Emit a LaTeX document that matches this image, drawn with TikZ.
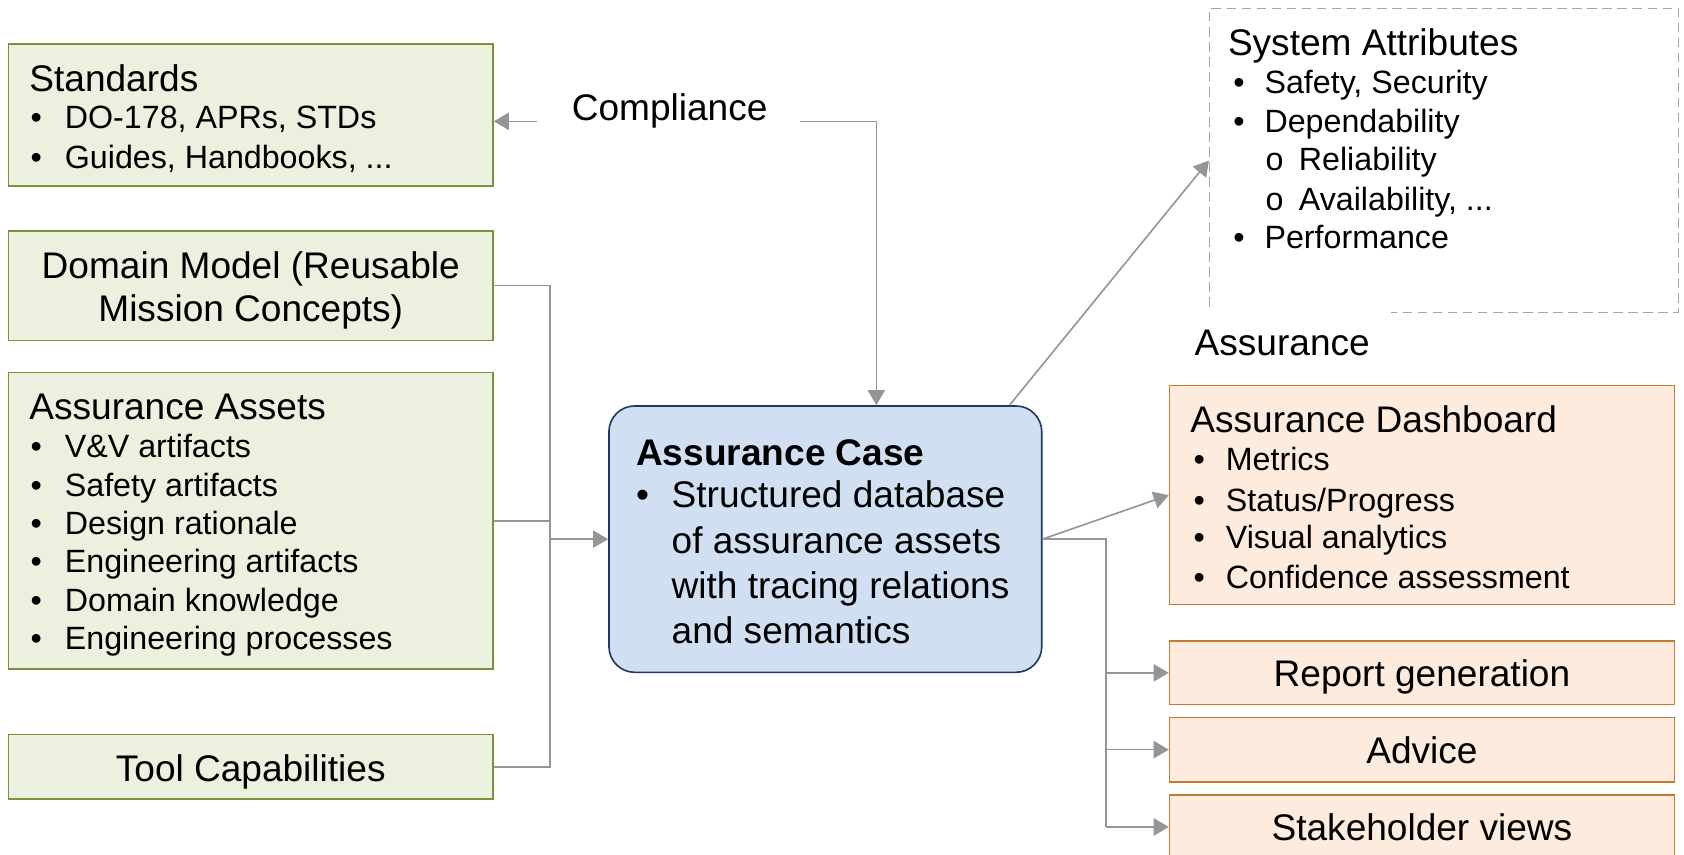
\documentclass[tikz,border=0pt]{standalone}
\usepackage{fontspec}
\setmainfont{Liberation Sans}
\usetikzlibrary{arrows.meta}
\definecolor{gfill}{HTML}{EBF1DE}
\definecolor{gdraw}{HTML}{77933C}
\definecolor{bfill}{HTML}{D0E0F2}
\definecolor{bdraw}{HTML}{203864}
\definecolor{ofill}{HTML}{FDEBDD}
\definecolor{odraw}{HTML}{C47A33}
\definecolor{conn}{HTML}{959595}
\definecolor{dashc}{HTML}{A6A6A6}
\begin{document}
\begin{tikzpicture}[x=0.5pt,y=-0.5pt,
  gbox/.style={draw=gdraw,fill=gfill,line width=0.75pt,inner sep=0pt,minimum width=225.5pt},
  obox/.style={draw=odraw,fill=ofill,line width=0.75pt,inner sep=0pt,minimum width=235pt},
  cbox/.style={draw=bdraw,fill=bfill,line width=0.75pt,inner sep=0pt,rounded corners=12pt},
  big/.style={font=\fontsize{17.25pt}{20pt}\selectfont,inner sep=0pt,anchor=base west},
  sm/.style={font=\fontsize{15pt}{18pt}\selectfont,inner sep=0pt,anchor=base west},
  bigc/.style={font=\fontsize{17.25pt}{20pt}\selectfont,inner sep=0pt,anchor=base},
  wire/.style={draw=conn,line width=0.75pt},
  arr/.style={wire,-{Triangle[length=7pt,width=8pt]}}]
\useasboundingbox (0,0) rectangle (1568,796);
\clip (0,0) rectangle (1568,796);

% ---------- left boxes ----------
\node[gbox,minimum height=66pt] (std) at (233.5,107) {};
\node[gbox,minimum height=51pt] (dom) at (233.5,266) {};
\node[gbox,minimum height=138pt] (ast) at (233.5,485) {};
\node[gbox,minimum height=30pt] (tool) at (233.5,714) {};

\node[big] (stdT) at (27,85) {Standards};
\node[sm] (stdB1) at (28,120) {•};
\node[sm] (std1) at (60,120) {DO-178, APRs, STDs};
\node[sm] (stdB2) at (28,157) {•};
\node[sm] (std2) at (60,157) {Guides, Handbooks, ...};

\node[bigc] (domT1) at (233.5,259) {Domain Model (Reusable};
\node[bigc] (domT2) at (233.5,299) {Mission Concepts)};

\node[big] (astT) at (27,391) {Assurance Assets};
\node[sm] (astB1) at (28,426) {•};
\node[sm] (ast1) at (60,426) {V\&V artifacts};
\node[sm] (astB2) at (28,462) {•};
\node[sm] (ast2) at (60,462) {Safety artifacts};
\node[sm] (astB3) at (28,498) {•};
\node[sm] (ast3) at (60,498) {Design rationale};
\node[sm] (astB4) at (28,533) {•};
\node[sm] (ast4) at (60,533) {Engineering artifacts};
\node[sm] (astB5) at (28,569) {•};
\node[sm] (ast5) at (60,569) {Domain knowledge};
\node[sm] (astB6) at (28,605) {•};
\node[sm] (ast6) at (60,605) {Engineering processes};

\node[bigc] (toolT) at (233.5,728) {Tool Capabilities};

% ---------- compliance ----------
\node[big] (cmp) at (532,112) {Compliance};
\coordinate (cmpL) at (500,113);
\coordinate (cmpR) at (745,113);

% ---------- assurance case ----------
\node[cbox,minimum width=201.5pt,minimum height=124pt] (case) at (768.5,502) {};
\node[big,font=\fontsize{17.25pt}{20pt}\selectfont\bfseries] (caseT) at (592,433) {Assurance Case};
\node[big] (caseB) at (592,473) {•};
\node[big] (case1) at (625,473) {Structured database};
\node[big] (case2) at (625,515) {of assurance assets};
\node[big] (case3) at (625,557) {with tracing relations};
\node[big] (case4) at (625,599) {and semantics};

% ---------- system attributes ----------
\node[inner sep=0pt,minimum width=218.5pt,minimum height=141.5pt] (sys) at (1344.5,149.5) {};
\draw[dashc,line width=0.75pt,dash pattern=on 4.5pt off 2.5pt]
  (1126,286) -- (1126,8) -- (1563,8) -- (1563,291) -- (1295,291);
\node[big] (sysT) at (1143,52) {System Attributes};
\node[sm] (sysB1) at (1148,87) {•};
\node[sm] (sys1) at (1177,87) {Safety, Security};
\node[sm] (sysB2) at (1148,123) {•};
\node[sm] (sys2) at (1177,123) {Dependability};
\node[sm] (sysO1) at (1178,159) {o};
\node[sm] (sys3) at (1209,159) {Reliability};
\node[sm] (sysO2) at (1178,196) {o};
\node[sm] (sys4) at (1209,196) {Availability, ...};
\node[sm] (sysB3) at (1148,231) {•};
\node[sm] (sys5) at (1177,231) {Performance};

\node[big] (asr) at (1112,331) {Assurance};

% ---------- right boxes ----------
\node[obox,minimum height=102pt] (dash) at (1324,461) {};
\node[big] (dashT) at (1108,403) {Assurance Dashboard};
\node[sm] (dashB1) at (1111,438) {•};
\node[sm] (dash1) at (1141,438) {Metrics};
\node[sm] (dashB2) at (1111,476) {•};
\node[sm] (dash2) at (1141,476) {Status/Progress};
\node[sm] (dashB3) at (1111,511) {•};
\node[sm] (dash3) at (1141,511) {Visual analytics};
\node[sm] (dashB4) at (1111,548) {•};
\node[sm] (dash4) at (1141,548) {Confidence assessment};

\node[obox,minimum height=29.5pt] (rep) at (1324,626.5) {};
\node[bigc] (repT) at (1324,639) {Report generation};
\node[obox,minimum height=30pt] (adv) at (1324,698) {};
\node[bigc] (advT) at (1324,711) {Advice};
\node[obox,minimum height=30pt] (stk) at (1324,770) {};
\node[bigc] (stkT) at (1324,783) {Stakeholder views};

% ---------- connectors ----------
\draw[arr] (cmpL) -- (cmpL -| std.east);
\draw[arr] (cmpR) -| ([xshift=23.75pt]case.north);

\coordinate (bus) at (512,502);
\draw[wire] (dom.east) -- (dom.east -| bus) -- (tool.east -| bus) -- (tool.east);
\draw[wire] (ast.east) -- (ast.east -| bus);
\draw[arr] (bus) -- (case.west);

\draw[arr] ([xshift=85.75pt]case.north) -- (sys.west);
\draw[arr] (case.east) -- (dash.west);

\coordinate (bus2) at (1030,502);
\draw[wire] (case.east) -- (bus2) -- (bus2 |- stk.west);
\draw[arr] (bus2 |- rep.west) -- (rep.west);
\draw[arr] (bus2 |- adv.west) -- (adv.west);
\draw[arr] (bus2 |- stk.west) -- (stk.west);
\end{tikzpicture}
\end{document}
